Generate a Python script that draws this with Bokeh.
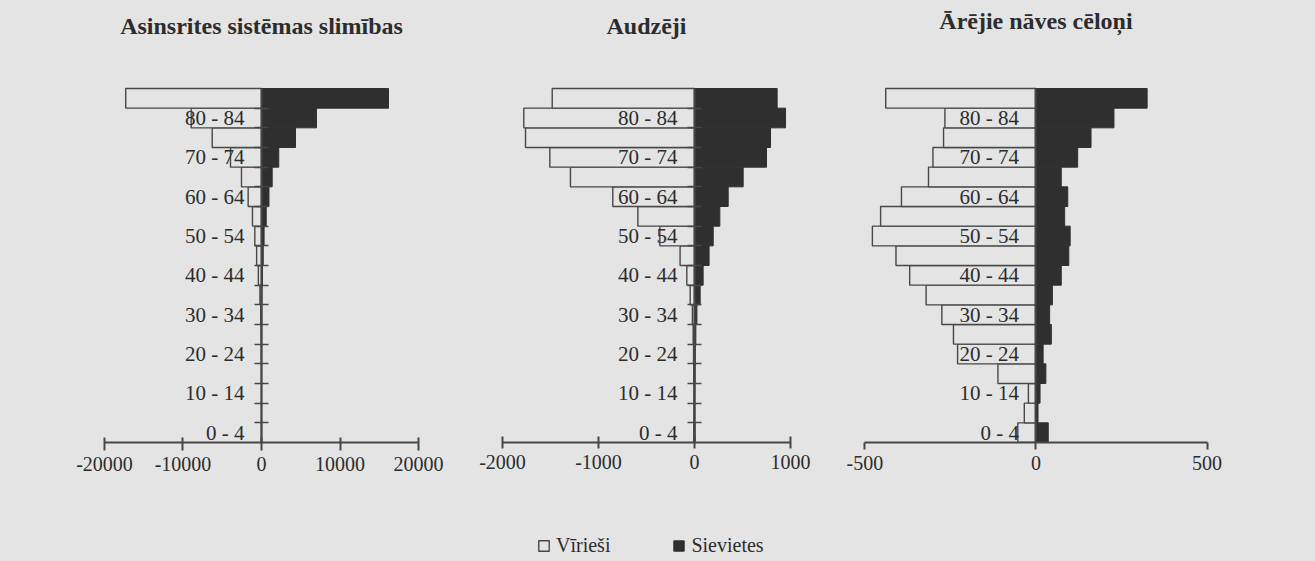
from bokeh.plotting import figure
from bokeh.models import Range1d, FixedTicker, Label, Legend, LegendItem, ColumnDataSource
from bokeh.layouts import column, row
from bokeh.embed import file_html
from bokeh.resources import INLINE

# ---- data (age groups from youngest to oldest) ----
age_groups = ["0 - 4", "5 - 9", "10 - 14", "15 - 19", "20 - 24", "25 - 29", "30 - 34",
              "35 - 39", "40 - 44", "45 - 49", "50 - 54", "55 - 59", "60 - 64",
              "65 - 69", "70 - 74", "75 - 79", "80 - 84", "85+"]

titles = ["Asinsrites sistēmas slimības", "Audzēji", "Ārējie nāves cēloņi"]

circ_men = [-20, -10, -15, -25, -40, -60, -100, -200, -400, -620, -850, -1150, -1700,
            -2550, -3950, -6280, -8960, -17300]
circ_women = [10, 5, 5, 10, 15, 20, 35, 60, 120, 220, 330, 600, 950,
              1360, 2200, 4330, 7000, 16180]

tumour_men = [-8, -6, -6, -8, -10, -14, -22, -45, -80, -150, -361, -590, -851,
              -1292, -1507, -1760, -1778, -1482]
tumour_women = [6, 4, 4, 6, 8, 14, 25, 59, 90, 152, 195, 264, 351,
                507, 750, 792, 948, 861]

ext_men = [-53, -34, -22, -111, -229, -241, -275, -321, -369, -409, -478, -454, -393,
           -314, -301, -270, -266, -439]
ext_women = [36, 6, 12, 29, 21, 45, 40, 48, 74, 96, 100, 84, 93,
             74, 122, 161, 228, 325]

x_ticks_1 = [-20000, -10000, 0, 10000, 20000]
x_ticks_2 = [-2000, -1000, 0, 1000]
x_ticks_3 = [-500, 0, 500]

legend_labels = ["Vīrieši", "Sievietes"]

# ---- style ----
BG = "#e4e4e4"
INK = "#2c2c2c"
BAR_DARK = "#2f2f2f"
EDGE = "#474747"
FONT = "Liberation Serif"

FRAME_H = 442
FIG_H = 529
Y_END = 22.475     # leaves room above the bars for the title
TITLE_Y = 21.2


def panel(title, men, women, xticks, x_start, x_end, width, vticks=True, tick_in=5, tick_out=8,
          title_x=0.0, title_y=TITLE_Y):
    p = figure(width=width, height=FIG_H, output_backend="svg", toolbar_location=None,
               x_range=Range1d(x_start, x_end), y_range=Range1d(0, Y_END),
               min_border_left=0, min_border_right=0, min_border_top=0,
               min_border_bottom=FIG_H - FRAME_H)
    p.background_fill_color = BG
    p.border_fill_color = BG
    p.outline_line_color = None
    p.grid.visible = False

    centers = [i + 0.5 for i in range(len(age_groups))]
    src = ColumnDataSource(dict(y=centers, men=men, women=women, zero=[0] * len(men)))
    p.hbar(y="y", left="men", right="zero", height=1, source=src,
           fill_color=BG, line_color=EDGE, line_width=1.4)
    p.hbar(y="y", left="zero", right="women", height=1, source=src,
           fill_color=BAR_DARK, line_color=BAR_DARK, line_width=1)

    # x axis
    xa = p.xaxis[0]
    xa.ticker = FixedTicker(ticks=xticks)
    xa.major_label_overrides = {t: str(t) for t in xticks}
    xa.bounds = (xticks[0], xticks[-1])
    xa.axis_line_width = 2
    xa.axis_line_color = EDGE
    xa.major_tick_line_color = EDGE
    xa.major_tick_line_width = 2
    xa.major_tick_in = tick_in
    xa.major_tick_out = tick_out
    xa.major_label_standoff = 6
    xa.major_label_text_font = FONT
    xa.major_label_text_font_size = "20px"
    xa.major_label_text_color = INK

    # vertical (category) axis placed at zero
    ya = p.yaxis[0]
    ya.fixed_location = 0
    label_pos = [c for i, c in enumerate(centers) if i % 2 == 0]
    ya.ticker = FixedTicker(ticks=label_pos,
                            minor_ticks=[float(i) for i in range(1, len(age_groups))])
    ya.major_label_overrides = {c: age_groups[i] for i, c in enumerate(centers) if i % 2 == 0}
    ya.bounds = (0, len(age_groups))
    ya.axis_line_width = 2
    ya.axis_line_color = EDGE
    ya.major_tick_in = 0
    ya.major_tick_out = 0
    ya.minor_tick_line_color = EDGE if vticks else None
    ya.minor_tick_line_width = 1.5
    ya.minor_tick_in = 7
    ya.minor_tick_out = 7
    ya.major_label_standoff = 10
    ya.major_label_text_font = FONT
    ya.major_label_text_font_size = "21px"
    ya.major_label_text_color = INK

    p.add_layout(Label(x=title_x, y=title_y, text=title, text_align="center",
                       text_baseline="middle", text_font=FONT, text_font_style="bold",
                       text_font_size="24px", text_color=INK))
    return p


p1 = panel(titles[0], circ_men, circ_women, x_ticks_1, -33248, 26369, 468,
           tick_in=5, tick_out=8)
p2 = panel(titles[1], tumour_men, tumour_women, x_ticks_2, -2354, 1500, 370,
           tick_in=6, tick_out=6, title_x=-500)
p3 = panel(titles[2], ext_men, ext_women, x_ticks_3, -577, 817, 477,
           vticks=False, tick_in=0, tick_out=7, title_y=21.41)

# legend strip
lg = figure(width=1315, height=32, output_backend="svg", toolbar_location=None,
            x_range=Range1d(0, 1), y_range=Range1d(0, 1), min_border=0)
lg.background_fill_color = BG
lg.border_fill_color = BG
lg.outline_line_color = None
lg.axis.visible = False
lg.grid.visible = False
offscreen = ColumnDataSource(dict(y=[-50], l=[-60], r=[-55]))
rm = lg.hbar(y="y", left="l", right="r", height=1, source=offscreen,
             fill_color=BG, line_color=EDGE, line_width=1.4)
rw = lg.hbar(y="y", left="l", right="r", height=1, source=offscreen,
             fill_color=BAR_DARK, line_color=BAR_DARK)
legend = Legend(items=[LegendItem(label=legend_labels[0], renderers=[rm]),
                       LegendItem(label=legend_labels[1], renderers=[rw])],
                location=(537, 4), orientation="horizontal",
                glyph_width=13, glyph_height=13, label_standoff=6, spacing=62,
                padding=0, margin=0, border_line_alpha=0, background_fill_alpha=0,
                label_text_font=FONT, label_text_font_size="20px",
                label_text_color=INK)
lg.add_layout(legend)

top = row(p1, p2, p3, spacing=0)
top.styles = {"background-color": BG}
layout = column(top, lg, spacing=0)
layout.styles = {"background-color": BG}

open("out.html", "w").write(file_html(layout, INLINE))
